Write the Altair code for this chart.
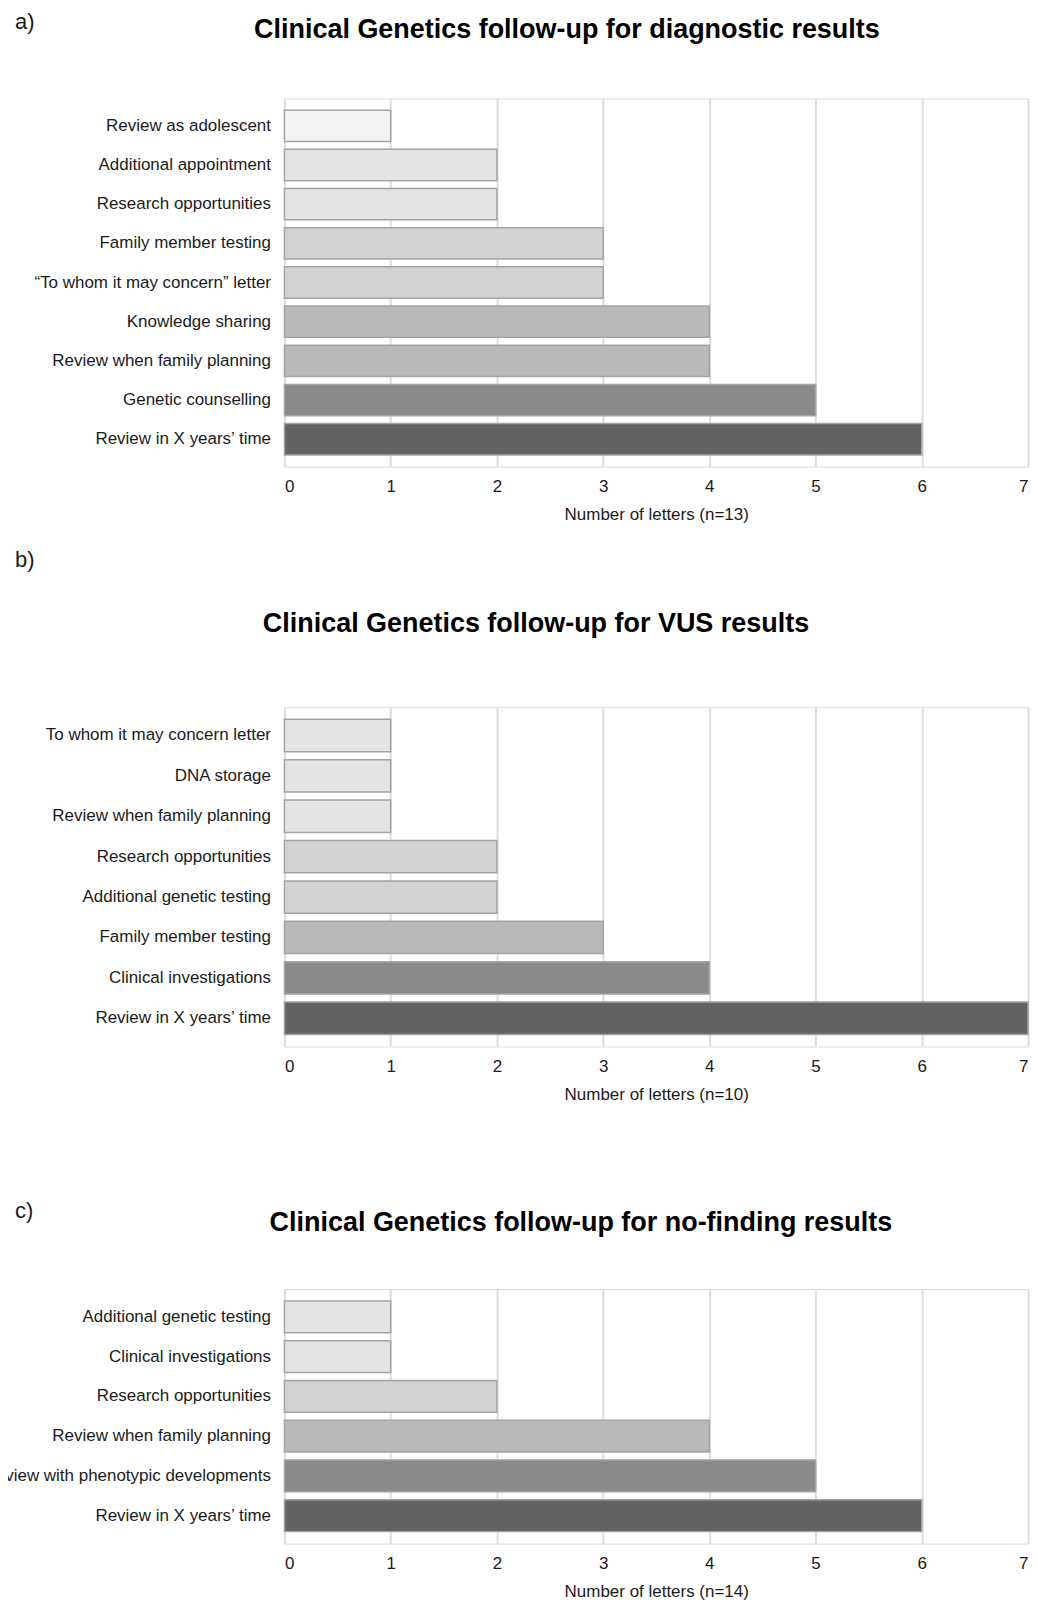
import altair as alt
import pandas as pd

FONT = "Liberation Sans"

# ---- data ----
a_items = ["Review as adolescent", "Additional appointment", "Research opportunities",
           "Family member testing", "\u201cTo whom it may concern\u201d letter", "Knowledge sharing",
           "Review when family planning", "Genetic counselling", "Review in X years\u2019 time"]
a_counts = [1, 2, 2, 3, 3, 4, 4, 5, 6]

b_items = ["To whom it may concern letter", "DNA storage", "Review when family planning",
           "Research opportunities", "Additional genetic testing", "Family member testing",
           "Clinical investigations", "Review in X years\u2019 time"]
b_counts = [1, 1, 1, 2, 2, 3, 4, 7]

c_items = ["Additional genetic testing", "Clinical investigations", "Research opportunities",
           "Review when family planning", "Review with phenotypic developments",
           "Review in X years\u2019 time"]
c_counts = [1, 1, 2, 4, 5, 6]

tags = ["a)", "b)", "c)"]
titles = ["Clinical Genetics follow-up for diagnostic results",
          "Clinical Genetics follow-up for VUS results",
          "Clinical Genetics follow-up for no-finding results"]
x_titles = ["Number of letters (n=13)", "Number of letters (n=10)", "Number of letters (n=14)"]
x_ticks = [0, 1, 2, 3, 4, 5, 6, 7]

shade_levels = [1, 2, 3, 4, 5, 6]
shade_colors = ["#f3f3f3", "#e4e4e4", "#d3d3d3", "#b9b9b9", "#8a8a8a", "#636363"]


def panel(items, counts, title, tag, xtitle, height, title_x, title_y, tag_y,
          title_pad=12, filler_y=None):
    distinct = sorted(set(counts), reverse=True)
    df = pd.DataFrame({
        "item": items,
        "count": counts,
        "level": [6 - distinct.index(v) for v in counts],
    })
    bars = alt.Chart(df).mark_bar(stroke="#a3a3a3", strokeWidth=1.5).encode(
        x=alt.X("count:Q",
                scale=alt.Scale(domain=[0, 7], nice=False),
                axis=alt.Axis(values=x_ticks, title=xtitle, grid=True, gridColor="#dddddd",
                              gridWidth=2, domain=False, ticks=False, tickSize=0,
                              labelPadding=12, titlePadding=title_pad, labelFontSize=17,
                              titleFontSize=17, titleFontWeight="normal",
                              labelColor="#1a1a1a", titleColor="#1a1a1a", labelFont=FONT,
                              titleFont=FONT)),
        y=alt.Y("item:N", sort=items, title=None,
                scale=alt.Scale(paddingInner=0.2, paddingOuter=0.3),
                axis=alt.Axis(domain=False, ticks=False, tickSize=0, labelPadding=14,
                              labelFontSize=17, labelLimit=500, labelColor="#1a1a1a",
                              labelFont=FONT)),
        fill=alt.Fill("level:O", scale=alt.Scale(domain=shade_levels, range=shade_colors),
                      legend=None),
    )
    text_df = pd.DataFrame({"tag": [tag], "title": [title]})
    tag_layer = alt.Chart(text_df).mark_text(
        align="left", baseline="middle", fontSize=22, font=FONT, color="#1a1a1a"
    ).encode(text="tag:N", x=alt.value(-270), y=alt.value(tag_y))
    title_layer = alt.Chart(text_df).mark_text(
        align="center", baseline="middle", fontSize=27, fontWeight="bold", font=FONT,
        color="#000000"
    ).encode(text="title:N", x=alt.value(title_x), y=alt.value(title_y))
    layers = [bars, tag_layer, title_layer]
    if filler_y is not None:
        filler = alt.Chart(text_df).mark_rule(strokeOpacity=0).encode(
            x=alt.value(0), y=alt.value(filler_y), y2=alt.value(filler_y + 2))
        layers.append(filler)
    return alt.layer(*layers).properties(width=745, height=height)


pa = panel(a_items, a_counts, titles[0], tags[0], x_titles[0], 369, 283, -69, -77)
pb = panel(b_items, b_counts, titles[1], tags[1], x_titles[1], 340, 252, -83, -147)
pc = panel(c_items, c_counts, titles[2], tags[2], x_titles[2], 255, 297, -66, -78,
           title_pad=12, filler_y=-160)

chart = alt.vconcat(pa, pb, pc, spacing=25).properties(
    padding={"left": -26, "top": 0, "right": 0, "bottom": 0}
).configure_view(stroke=None).configure(font=FONT)

chart.save("out.html", embed_options={"renderer": "svg", "actions": False})
